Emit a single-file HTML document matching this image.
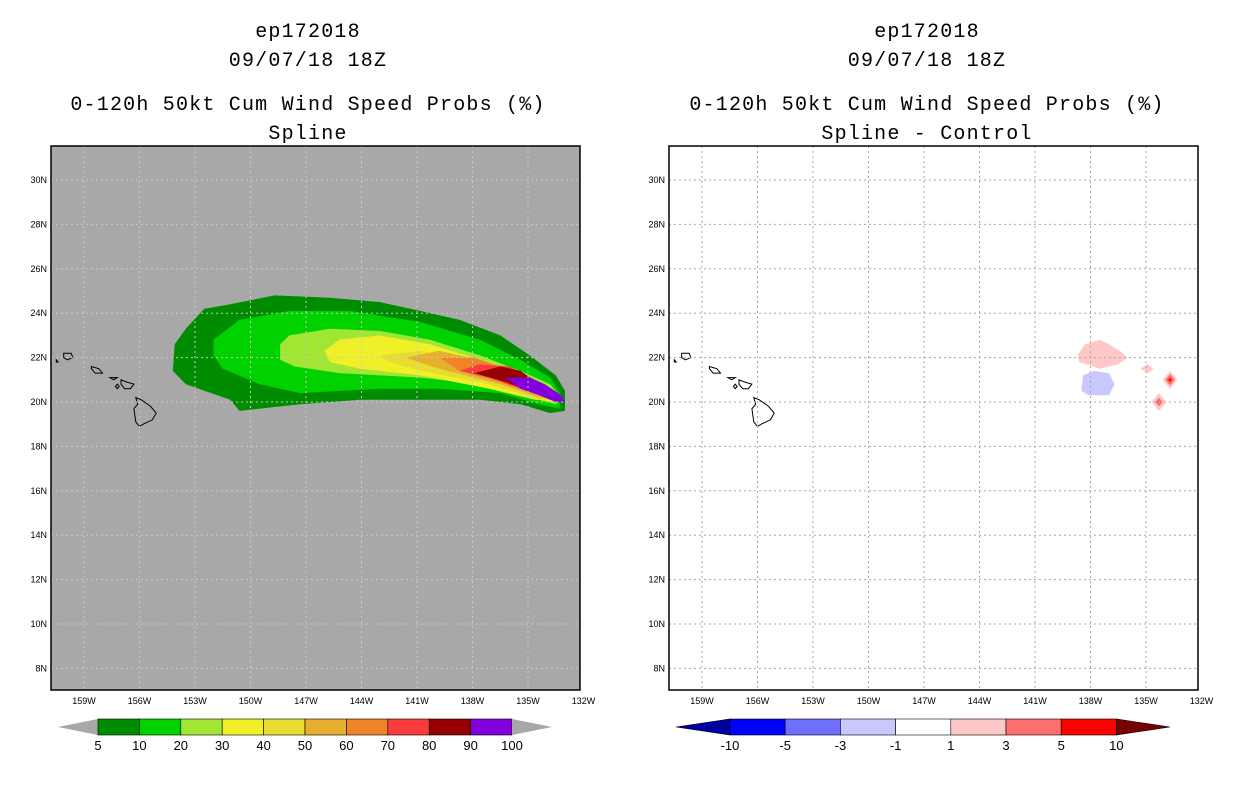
<!DOCTYPE html>
<html><head><meta charset="utf-8"><style>
body{margin:0;background:#fff;}
svg text{font-family:"Liberation Sans",sans-serif;}
svg .ttl{font-family:"Liberation Mono",monospace;letter-spacing:1.2px;}
</style></head><body>
<svg id="s" width="1236" height="800" xmlns="http://www.w3.org/2000/svg">
<g font-size="20" text-anchor="middle" fill="#000">
<text class="ttl" x="308" y="37">ep172018</text>
<text class="ttl" x="308" y="66">09/07/18 18Z</text>
<text class="ttl" x="308" y="110">0-120h 50kt Cum Wind Speed Probs (%)</text>
<text class="ttl" x="308" y="139">Spline</text>
</g>
<g font-size="20" text-anchor="middle" fill="#000">
<text class="ttl" x="927" y="37">ep172018</text>
<text class="ttl" x="927" y="66">09/07/18 18Z</text>
<text class="ttl" x="927" y="110">0-120h 50kt Cum Wind Speed Probs (%)</text>
<text class="ttl" x="927" y="139">Spline - Control</text>
</g>
<rect x="51" y="146" width="529" height="544" fill="#a8a8a8"/>
<rect x="669" y="146" width="529" height="544" fill="#fff"/>
<g id="L"></g><g id="R"></g>
<rect x="51" y="146" width="529" height="544" fill="none" stroke="#000" stroke-width="1.5"/>
<rect x="669" y="146" width="529" height="544" fill="none" stroke="#000" stroke-width="1.5"/>
<g id="CB"></g>
</svg>
<script>
const lonTicks=[159,156,153,150,147,144,141,138,135,132];
const latTicks=[30,28,26,24,22,20,18,16,14,12,10,8];
const probLevels=[5,10,20,30,40,50,60,70,80,90,100];
const probColors=["#008c00","#00d200","#a0e632","#f0f028","#e6dc32","#e6af2d","#f08228","#fa3c3c","#960000","#8200dc"];
const diffLevels=[-10,-5,-3,-1,1,3,5,10];
const diffColors=["#0000a0","#0000ff","#6e6eff","#c8c8ff","#ffffff","#ffc8c8","#ff6e6e","#ff0000","#780000"];
const prob5=[[154.2,21.4],[154.1,22.6],[153.5,23.3],[152.5,24.2],[151.1,24.4],[148.7,24.8],[145.7,24.7],[143.0,24.5],[140.8,24.1],[138.7,23.7],[136.5,23.0],[134.9,22.1],[133.5,21.2],[133.0,20.5],[133.0,19.6],[133.8,19.5],[135.4,19.9],[137.6,20.1],[140.8,20.1],[144.1,20.1],[147.3,19.9],[150.6,19.6],[151.1,20.1],[153.5,20.8]];
const prob10=[[152.0,22.8],[150.6,23.7],[147.9,24.1],[144.6,24.1],[140.8,23.6],[137.6,22.8],[135.4,21.9],[133.8,21.1],[133.2,20.3],[133.3,19.7],[134.4,19.9],[136.5,20.4],[139.8,20.6],[143.0,20.6],[147.3,20.4],[149.5,20.8],[151.5,21.5],[152.0,22.1]];
const prob20=[[148.4,22.6],[147.9,23.0],[145.7,23.3],[143.0,23.2],[140.3,22.8],[137.6,22.1],[135.4,21.4],[133.8,20.8],[133.2,20.2],[133.5,19.9],[134.9,20.2],[137.6,20.8],[140.8,21.1],[145.2,21.3],[147.6,21.6],[148.4,21.9]];
const prob30=[[146.0,22.3],[145.2,22.8],[143.0,23.0],[140.3,22.6],[137.6,21.9],[135.4,21.2],[133.8,20.5],[133.4,20.0],[134.6,20.1],[137.1,20.6],[140.8,21.2],[144.1,21.5],[145.7,21.8]];
const prob40=[[143.0,22.1],[140.8,22.3],[138.7,21.9],[136.5,21.4],[134.4,20.8],[133.5,20.1],[134.4,20.1],[137.1,20.8],[140.8,21.4],[142.5,21.8]];
const prob50=[[141.6,22.0],[139.8,22.3],[137.6,21.9],[135.7,21.4],[134.1,20.7],[133.5,20.1],[134.4,20.2],[136.5,20.8],[139.8,21.5]];
const prob60=[[139.8,22.0],[137.9,22.0],[136.0,21.4],[134.1,20.7],[133.6,20.1],[134.4,20.3],[136.5,20.9],[138.7,21.4]];
const prob70=[[138.7,21.4],[137.6,21.7],[136.0,21.6],[134.4,20.9],[133.5,20.2],[133.9,20.2],[135.4,20.6],[137.1,21.1]];
const prob80=[[137.9,21.3],[136.5,21.6],[135.4,21.4],[134.4,20.8],[133.3,20.2],[133.8,20.1],[134.6,20.4],[136.2,20.9]];
const prob90=[[136.2,21.1],[134.9,21.1],[134.1,20.8],[133.2,20.3],[133.0,20.0],[133.5,20.0],[134.4,20.3],[135.4,20.6]];
const probContours=[prob5,prob10,prob20,prob30,prob40,prob50,prob60,prob70,prob80,prob90];
const diffPink=[[138.7,22.1],[138.3,22.6],[137.5,22.8],[137.0,22.6],[136.4,22.3],[136.0,22.0],[136.5,21.7],[137.5,21.5],[138.6,21.8]];
const diffBlue=[[138.4,21.2],[137.8,21.4],[137.0,21.3],[136.7,20.8],[137.0,20.3],[138.1,20.3],[138.5,20.5]];
const diffSmall=[[135.3,21.5],[134.9,21.7],[134.6,21.5],[134.9,21.3]];
const diffD1out=[[133.7,21.4],[133.3,21.0],[133.7,20.6],[134.1,21.0]];
const diffD1mid=[[133.7,21.25],[133.45,21.0],[133.7,20.75],[133.95,21.0]];
const diffD1in=[[133.7,21.1],[133.6,21.0],[133.7,20.9],[133.8,21.0]];
const diffD2out=[[134.3,20.4],[133.9,20.0],[134.3,19.6],[134.7,20.0]];
const diffD2mid=[[134.3,20.2],[134.1,20.0],[134.3,19.8],[134.5,20.0]];
const diffShapes=[diffPink,diffBlue,diffSmall,diffD1out,diffD1mid,diffD1in,diffD2out,diffD2mid];
const diffClasses=[5,3,5,5,6,7,5,6];
const islands=[
[[156.2,20.2],[155.9,20.1],[155.4,19.8],[155.1,19.5],[155.3,19.2],[155.8,19.0],[156.0,18.9],[156.2,19.1],[156.3,19.7],[156.1,19.9]],
[[157.0,21.0],[156.7,20.9],[156.3,20.8],[156.5,20.6],[156.8,20.6],[157.0,20.8]],
[[157.6,21.1],[157.2,21.1],[157.4,21.0]],
[[157.2,20.8],[157.1,20.7],[157.2,20.6],[157.3,20.7]],
[[158.6,21.6],[158.2,21.5],[158.0,21.3],[158.4,21.3],[158.6,21.5]],
[[160.1,22.2],[159.7,22.2],[159.6,22.0],[159.9,21.9],[160.1,22.0]],
[[160.5,21.9],[160.4,21.8],[160.5,21.8]]
];
const NS="http://www.w3.org/2000/svg";
function xS(lon,x0){return x0+(159-lon)*18.5;}
function yS(lat){return 180+(30-lat)*22.2;}
function mk(tag,attrs,parent){const e=document.createElementNS(NS,tag);for(const k in attrs)e.setAttribute(k,attrs[k]);parent.appendChild(e);return e;}
function pts(poly,x0){return poly.map(p=>xS(p[0],x0).toFixed(1)+","+yS(p[1]).toFixed(1)).join(" ");}
function panel(g,x0,left){
  const gg=mk("g",{},g);
  if(left){probContours.forEach((c,i)=>{const p=mk("polygon",{points:pts(c,x0),fill:probColors[i]},gg);
    
    });}
  else{diffShapes.forEach((c,i)=>{const p=mk("polygon",{points:pts(c,x0),fill:diffColors[diffClasses[i]]},gg);
    
    });}
  islands.forEach(c=>{const p=mk("polygon",{points:pts(c,x0),fill:"none",stroke:"#000","stroke-width":1},gg);
    
    });
  const bx=x0-33, bw=529;
  lonTicks.forEach(l=>{const x=xS(l,x0);
    if(x<bx+bw-2){const ln=mk("line",{x1:x,x2:x,y1:146,y2:690,stroke:"#a8a8a8","stroke-dasharray":"2,3"},g);
    if(left)ln.setAttribute('stroke','#c8c8c8');
    
    }
    const t=mk("text",{x:x,y:704,"font-size":9,"text-anchor":"middle"},g);t.textContent=l+"W";
    
    });
  latTicks.forEach(l=>{const y=yS(l);
    const ln=mk("line",{x1:bx,x2:bx+bw,y1:y,y2:y,stroke:left?"#c8c8c8":"#a8a8a8","stroke-dasharray":"2,3"},g);
    
    
    const t=mk("text",{x:bx-4,y:y+3,"font-size":9,"text-anchor":"end"},g);t.textContent=l+"N";
    
    });
}
panel(document.getElementById("L"),84,true);
panel(document.getElementById("R"),702,false);
const cb=document.getElementById("CB");
(function(){const x0=98,w=41.4,y=719,h=16;
 const t1=mk("polygon",{points:`${x0},${y} ${x0},${y+h} 58,${y+h/2}`,fill:"#a8a8a8"},cb);
 
 probColors.forEach((c,i)=>{const r=mk("rect",{x:x0+i*w,y:y,width:w,height:h,fill:c,stroke:"#000","stroke-width":0.6},cb);
  
  });
 const xe=x0+probColors.length*w;
 const t2=mk("polygon",{points:`${xe},${y} ${xe},${y+h} 552,${y+h/2}`,fill:"#a8a8a8"},cb);
 
 probLevels.forEach((v,i)=>{const t=mk("text",{x:x0+i*w,y:750,"font-size":13,"text-anchor":"middle"},cb);t.textContent=v;
  
  });
})();
(function(){const x0=730,w=55.2,y=719,h=16,n=diffColors.length-2;
 const t1=mk("polygon",{points:`${x0},${y} ${x0},${y+h} 676,${y+h/2}`,fill:diffColors[0],stroke:"#000","stroke-width":0.6},cb);
 
 for(let i=0;i<n;i++){const r=mk("rect",{x:x0+i*w,y:y,width:w,height:h,fill:diffColors[i+1],stroke:"#000","stroke-width":0.6},cb);
  
  }
 const xe=x0+n*w;
 const t2=mk("polygon",{points:`${xe},${y} ${xe},${y+h} 1170,${y+h/2}`,fill:diffColors[diffColors.length-1],stroke:"#000","stroke-width":0.6},cb);
 
 diffLevels.forEach((v,i)=>{const t=mk("text",{x:x0+i*w,y:750,"font-size":13,"text-anchor":"middle"},cb);t.textContent=v;
  
  });
})();
</script>
</body></html>
